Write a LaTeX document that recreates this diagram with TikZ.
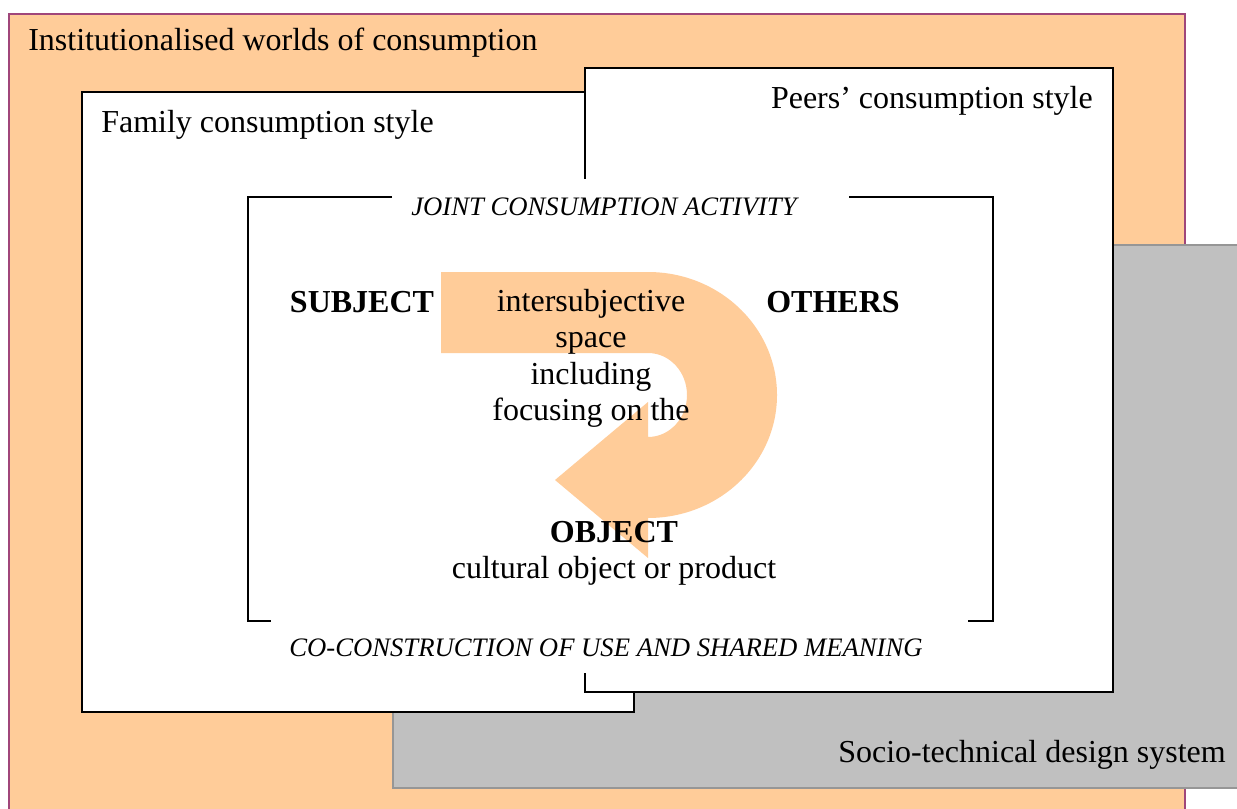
\documentclass[tikz,border=0pt]{standalone}
\usepackage{fontspec}
\setmainfont{Liberation Serif}
\usepackage{tikz}

\definecolor{peach}{HTML}{FFCC99}
\definecolor{plum}{HTML}{A0467A}
\definecolor{silver}{HTML}{C0C0C0}
\definecolor{darksilver}{HTML}{969696}

\tikzset{
  lbl/.style={inner sep=0pt, font=\fontsize{24}{27.6}\selectfont},
  boldlbl/.style={inner sep=0pt, font=\fontsize{24}{27.6}\selectfont\bfseries},
  caps/.style={inner sep=0pt, font=\fontsize{20}{23}\selectfont\itshape},
  box/.style={draw=black, line width=1.5pt, fill=white},
  bracket/.style={draw=black, line width=1.5pt}
}

\begin{document}
\begin{tikzpicture}[x=0.75pt, y=-0.75pt]
\clip (0,0) rectangle (1237,809);
\fill[white] (0,0) rectangle (1237,809);
\draw[plum, fill=peach, line width=1.2pt] (9,14) rectangle (1185,830);
\draw[darksilver, fill=silver, line width=1.2pt] (393,245) rectangle (1260,788);
\draw[box] (82,92) rectangle (634,712);
\draw[box] (585,68) rectangle (1113,692);
\fill[white] (248,179) rectangle (993,673);
\draw[bracket] (392,197) -- (248,197) -- (248,621) -- (271,621);
\draw[bracket] (849,197) -- (993,197) -- (993,621) -- (968,621);
% turning arrow
\fill[peach] (441,272) -- (648,272)
	arc[start angle=-90, end angle=90, x radius=129, y radius=123]
	-- (648,558) -- (555,480) -- (648,402) -- (648,437)
	arc[start angle=90, end angle=-90, x radius=39, y radius=42] -- (441,353) -- cycle;

\node[lbl, anchor=base west] (title) at (28,51) {Institutionalised worlds of consumption};
\node[lbl, anchor=base west] (family) at (101,133) {Family consumption style};
\node[lbl, anchor=base east] (peers) at (1093,109) {Peers' consumption style};
\node[lbl, anchor=base east] (socio) at (1226,762) {Socio-technical design system};
\node[caps, anchor=base] (joint) at (604,216) {JOINT CONSUMPTION ACTIVITY};
\node[caps, anchor=base] (coconstr) at (606,656) {CO-CONSTRUCTION OF USE AND SHARED MEANING};
\node[boldlbl, anchor=base] (subject) at (362,312) {SUBJECT};
\node[boldlbl, anchor=base] (others) at (833,312) {OTHERS};
\foreach \txt [count=\i from 0] in {intersubjective, space, including, focusing on the}
	\node[lbl, anchor=base] (mid\i) at (591,311+36.5*\i) {\txt};
\node[boldlbl, anchor=base] (object) at (614,542) {OBJECT};
\node[lbl, anchor=base] (objectsub) at (614,578.5) {cultural object or product};
\end{tikzpicture}
\end{document}
